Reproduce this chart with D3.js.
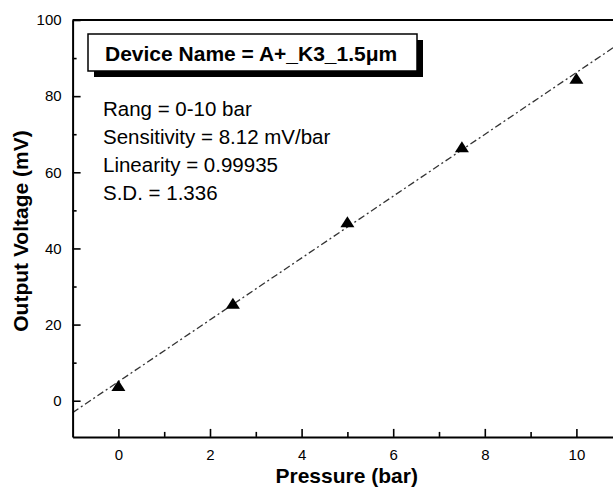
<!DOCTYPE html>
<html><head><meta charset="utf-8">
<script src="https://cdn.jsdelivr.net/npm/d3@7"></script>
<style>
body{margin:0;background:#fff}
svg{display:block}
text{font-family:"Liberation Sans",Arial,Helvetica,sans-serif;fill:#000}
</style>
</head><body>
<svg id="c" width="613" height="487"></svg>
<script>
// ---- data ----
const pressure = [0, 2.5, 5, 7.5, 10];
const voltage = [4.0, 25.6, 47.0, 66.7, 84.7];
const xTicks = [0, 2, 4, 6, 8, 10];
const xMinorTicks = [1, 3, 5, 7, 9];
const yTicks = [0, 20, 40, 60, 80, 100];
const yMinorTicks = [10, 30, 50, 70, 90];
const fitSlope = 8.12;
const fitIntercept = 5.0;
const fitRange = [-1, 11];
const deviceName = "Device Name = A+_K3_1.5\u03BCm";
const statLines = ["Rang = 0-10 bar", "Sensitivity = 8.12 mV/bar", "Linearity = 0.99935", "S.D. = 1.336"];
const xTitle = "Pressure (bar)";
const yTitle = "Output Voltage (mV)";

// ---- chart ----
const svg = d3.select("#c");
const x = d3.scaleLinear().domain([-1, 11]).range([72.6, 622.2]);
const y = d3.scaleLinear().domain([-9.5, 100]).range([436.9, 20]);

// fit line
const fitPts = fitRange.map(p => [p, fitSlope * p + fitIntercept]);
svg.append("path")
  .attr("d", d3.line().x(d => x(d[0])).y(d => y(d[1]))(fitPts))
  .attr("fill", "none").attr("stroke", "#333").attr("stroke-width", 1.3)
  .attr("stroke-dasharray", "7,3,2,3");

// axes
function styleAxis(g) {
  g.select(".domain").attr("stroke-width", 2);
  g.selectAll(".tick line").attr("stroke-width", 1.6);
  g.selectAll(".tick text").style("font-size", "15px").style("font-family", '"Liberation Sans",Arial,sans-serif');
}
const gx = svg.append("g").attr("transform", `translate(0,${y(-9.5)})`)
  .call(d3.axisBottom(x).tickValues(xTicks).tickFormat(d3.format("d")).tickSizeInner(-8).tickSizeOuter(0).tickPadding(12));
styleAxis(gx);
const gxm = svg.append("g").attr("transform", `translate(0,${y(-9.5)})`)
  .call(d3.axisBottom(x).tickValues(xMinorTicks).tickFormat("").tickSizeInner(-5).tickSizeOuter(0));
gxm.select(".domain").remove();
gxm.selectAll(".tick line").attr("stroke-width", 1.6);

const gy = svg.append("g").attr("transform", `translate(${x(-1)},0)`)
  .call(d3.axisLeft(y).tickValues(yTicks).tickFormat(d3.format("d")).tickSizeInner(-8).tickSizeOuter(0).tickPadding(11));
styleAxis(gy);
const gym = svg.append("g").attr("transform", `translate(${x(-1)},0)`)
  .call(d3.axisLeft(y).tickValues(yMinorTicks).tickFormat("").tickSizeInner(-4).tickSizeOuter(0));
gym.select(".domain").remove();
gym.selectAll(".tick line").attr("stroke-width", 1.6);

// top frame
svg.append("line").attr("x1", x(-1)).attr("x2", x(11)).attr("y1", y(100)).attr("y2", y(100))
  .attr("stroke", "#000").attr("stroke-width", 2);

// markers: triangle centered on its bounding box
const triW = 14, triH = 11;
const triangle = {
  draw(ctx) {
    ctx.moveTo(0, -triH / 2);
    ctx.lineTo(triW / 2, triH / 2);
    ctx.lineTo(-triW / 2, triH / 2);
    ctx.closePath();
  }
};
svg.append("g").selectAll("path").data(pressure).join("path")
  .attr("d", d3.symbol().type(triangle)())
  .attr("transform", (d, i) => `translate(${x(d)},${y(voltage[i])})`)
  .attr("fill", "#000");

// legend box with shadow
const box = {x: 88, y: 34, w: 329, h: 37, off: 6};
svg.append("rect").attr("x", box.x + box.off).attr("y", box.y + box.off)
  .attr("width", box.w).attr("height", box.h).attr("fill", "#000");
svg.append("rect").attr("x", box.x).attr("y", box.y)
  .attr("width", box.w).attr("height", box.h).attr("fill", "#fff")
  .attr("stroke", "#000").attr("stroke-width", 1.5);
svg.append("text").attr("x", 105).attr("y", 61)
  .style("font-size", "21px").style("font-weight", "bold").text(deviceName);

// stats text
svg.append("g").selectAll("text").data(statLines).join("text")
  .attr("x", 103).attr("y", (d, i) => 115.5 + i * 28.3)
  .style("font-size", "20.5px").text(d => d);

// axis titles
svg.append("text").attr("x", 346.7).attr("y", 483).attr("text-anchor", "middle")
  .style("font-size", "21px").style("font-weight", "bold").text(xTitle);
svg.append("text").attr("transform", "translate(28,231) rotate(-90)").attr("text-anchor", "middle")
  .style("font-size", "21px").style("font-weight", "bold").text(yTitle);
</script>
</body></html>
